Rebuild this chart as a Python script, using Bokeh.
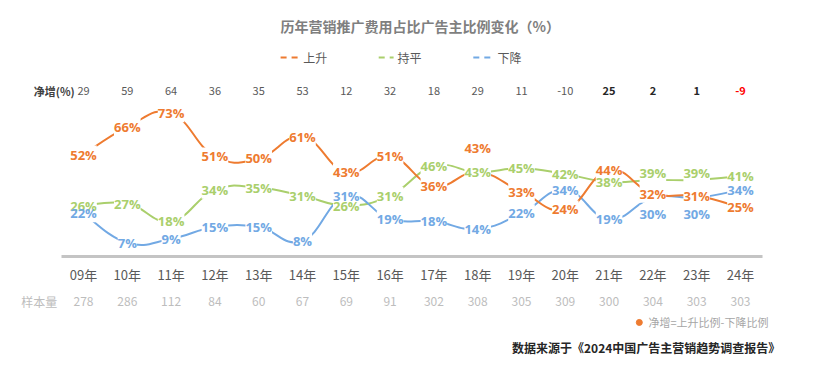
from bokeh.plotting import figure
from bokeh.models import ColumnDataSource, LinearAxis, FixedTicker, Range1d, Label
from bokeh.core.properties import value
from bokeh.embed import file_html
from bokeh.resources import INLINE

# ---------------- data ----------------
years = ["09年", "10年", "11年", "12年", "13年", "14年", "15年", "16年",
         "17年", "18年", "19年", "20年", "21年", "22年", "23年", "24年"]
up = [52, 66, 73, 51, 50, 61, 43, 51, 36, 43, 33, 24, 44, 32, 31, 25]
flat = [26, 27, 18, 34, 35, 31, 26, 31, 46, 43, 45, 42, 38, 39, 39, 41]
down = [22, 7, 9, 15, 15, 8, 31, 19, 18, 14, 22, 34, 19, 30, 30, 34]
net = [29, 59, 64, 36, 35, 53, 12, 32, 18, 29, 11, -10, 25, 2, 1, -9]
samples = [278, 286, 112, 84, 60, 67, 69, 91, 302, 308, 305, 309, 300, 304, 303, 303]

# ---------------- styles ----------------
C_UP, C_FLAT, C_DOWN = "#EE7B30", "#AACF6C", "#72A9E4"
CJK = "Noto Sans CJK SC"
# label pixel offsets (positive = downwards) to avoid overlaps
dy_up = {9: -24}
dy_flat = {13: -7, 14: -7}
dy_down = {13: 16, 14: 16}

xs = list(range(len(years)))

p = figure(width=807, height=360,
           x_range=Range1d(-1.895, 16.53), y_range=Range1d(-53.0, 130.5),
           output_backend="svg", toolbar_location=None,
           x_axis_location=None, y_axis_location=None,
           min_border=0, outline_line_color=None,
           background_fill_color="white", border_fill_color="white")
p.grid.visible = False

ax = LinearAxis(fixed_location=0,
                ticker=FixedTicker(ticks=xs),
                major_label_overrides={i: y for i, y in enumerate(years)},
                bounds=(-0.5, 15.5),
                axis_line_color="#C4C4C4", axis_line_width=3,
                major_tick_line_color=None, minor_tick_line_color=None,
                major_label_standoff=2,
                major_label_text_font=CJK,
                major_label_text_font_size="13px",
                major_label_text_color="#595959")
p.add_layout(ax, "below")


def smooth(x, y, t=0.22):
    n = len(x)
    d = dict(x0=[], y0=[], x1=[], y1=[], cx0=[], cy0=[], cx1=[], cy1=[])
    for i in range(n - 1):
        a = max(i - 1, 0)
        b = min(i + 2, n - 1)
        d["x0"].append(x[i]); d["y0"].append(y[i])
        d["x1"].append(x[i + 1]); d["y1"].append(y[i + 1])
        d["cx0"].append(x[i] + (x[i + 1] - x[a]) * t)
        d["cy0"].append(y[i] + (y[i + 1] - y[a]) * t)
        d["cx1"].append(x[i + 1] - (x[b] - x[i]) * t)
        d["cy1"].append(y[i + 1] - (y[b] - y[i]) * t)
    return ColumnDataSource(d)


for series, col in ((flat, C_FLAT), (down, C_DOWN), (up, C_UP)):
    p.bezier(x0="x0", y0="y0", x1="x1", y1="y1", cx0="cx0", cy0="cy0",
             cx1="cx1", cy1="cy1", source=smooth(xs, series),
             line_color=col, line_width=2)

label_sources = []
for series, col, dd in ((flat, C_FLAT, dy_flat), (down, C_DOWN, dy_down), (up, C_UP, dy_up)):
    src = ColumnDataSource(dict(x=xs, y=series,
                                t=[f"{v}%" for v in series],
                                dy=[dd.get(i, 0) for i in xs]))
    label_sources.append((src, col))

# white knock-out boxes first, then all label texts on top
for src, col in label_sources:
    p.text(x="x", y="y", text="t", source=src, y_offset="dy",
           text_align="center", text_baseline="middle",
           text_alpha=0, text_font=value("Open Sans"),
           text_font_size="13px", text_font_style="bold",
           background_fill_color="white", padding=0)
for src, col in label_sources:
    p.text(x="x", y="y", text="t", source=src, y_offset="dy",
           text_align="center", text_baseline="middle",
           text_color=col, text_font=value("Open Sans"),
           text_font_size="13px", text_font_style="bold")

# net increase row
net_src = ColumnDataSource(dict(
    x=xs, y=[84.6] * len(xs), t=[str(v) for v in net],
    c=["#FF0000" if (i >= 12 and v < 0) else ("#262626" if i >= 12 else "#595959")
       for i, v in enumerate(net)],
    s=["bold" if i >= 12 else "normal" for i in xs]))
p.text(x="x", y="y", text="t", source=net_src, text_color="c",
       text_font_style="s", text_align="center", text_baseline="middle",
       text_font=value(CJK), text_font_size="11px")
p.add_layout(Label(x=-0.2, y=84.6, text="净增(%)", text_align="right",
                   text_baseline="middle", text_font=CJK, text_font_size="11px",
                   text_font_style="bold", text_color="#404040"))

# sample size row
samp_src = ColumnDataSource(dict(x=xs, y=[-22.9] * len(xs), t=[str(v) for v in samples]))
p.text(x="x", y="y", text="t", source=samp_src, text_color="#BDBDBD",
       text_align="center", text_baseline="middle",
       text_font=value(CJK), text_font_size="12px")
p.add_layout(Label(x=-0.6, y=-22.9, text="样本量", text_align="right",
                   text_baseline="middle", text_font=CJK, text_font_size="12px",
                   text_color="#BDBDBD"))

# title
p.add_layout(Label(x=7.69, y=117.7, text="历年营销推广费用占比广告主比例变化（%）",
                   text_align="center", text_baseline="middle", text_font=CJK,
                   text_font_size="14px", text_font_style="bold", text_color="#7F7F7F"))

# manual legend
for x0, x1, tx, col, name in ((4.50, 4.95, 5.02, C_UP, "上升"),
                              (6.74, 7.08, 7.17, C_FLAT, "持平"),
                              (8.90, 9.34, 9.45, C_DOWN, "下降")):
    p.segment(x0=[x0], y0=[101.4], x1=[x1], y1=[101.4], line_color=col,
              line_width=2, line_dash="6 5")
    p.add_layout(Label(x=tx, y=101.4, text=name, text_align="left",
                       text_baseline="middle", text_font=CJK, text_font_size="12px",
                       text_color="#595959"))

# footnotes
p.scatter(x=[12.69], y=[-33.6], size=6, color=C_UP, marker="circle")
p.add_layout(Label(x=12.9, y=-33.6, text="净增=上升比例-下降比例", text_align="left",
                   text_baseline="middle", text_font=CJK, text_font_size="11px",
                   text_color="#A6A6A6"))
p.add_layout(Label(x=15.91, y=-46.4, text="数据来源于《2024中国广告主营销趋势调查报告》",
                   text_align="right", text_baseline="middle", text_font=CJK,
                   text_font_size="12px", text_font_style="bold", text_color="#262626"))

open("out.html", "w").write(file_html(p, INLINE))
